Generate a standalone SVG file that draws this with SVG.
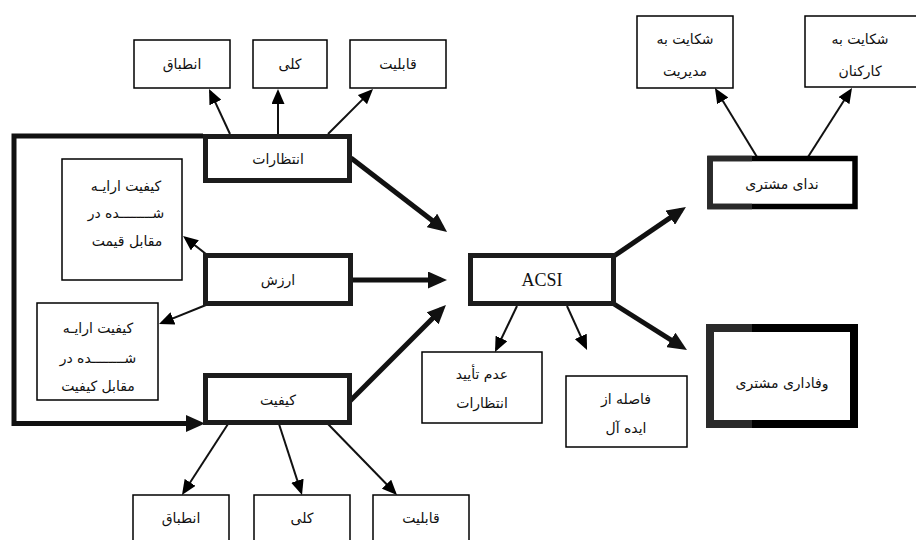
<svg xmlns="http://www.w3.org/2000/svg" width="916" height="540" viewBox="0 0 916 540">
<style>
  .box{fill:#fff;stroke:#000;stroke-width:1.5}
  .tbox{fill:#fff;stroke:#1c1c1c;stroke-width:5}
  .fa{font-family:"DejaVu Sans","Noto Sans",sans-serif;font-size:14px;fill:#111;text-anchor:middle;direction:rtl}
  .en{font-family:"Liberation Serif",serif;font-size:18px;fill:#111;text-anchor:middle}
  .thin{stroke:#111;stroke-width:2;fill:none;marker-end:url(#ah)}
  .thick{stroke:#111;stroke-width:5;fill:none;marker-end:url(#ahb)}
</style>
<defs>
  <marker id="ah" markerUnits="userSpaceOnUse" markerWidth="15" markerHeight="13" refX="12" refY="6.5" orient="auto">
    <path d="M0,0 L15,6.5 L0,13 Z" fill="#000"/>
  </marker>
  <marker id="ahb" markerUnits="userSpaceOnUse" markerWidth="19" markerHeight="17" refX="13" refY="8.5" orient="auto">
    <path d="M0,0 L19,8.5 L0,17 Z" fill="#111"/>
  </marker>
</defs>
<rect width="916" height="540" fill="#fff"/>

<g id="connectors">
  <line class="thin" x1="230" y1="134" x2="210.3" y2="91.7"/>
  <line class="thin" x1="278" y1="134" x2="278" y2="92"/>
  <line class="thin" x1="328" y1="134" x2="370.9" y2="91.1"/>
  <line class="thin" x1="206" y1="254" x2="185.4" y2="237.9"/>
  <line class="thin" x1="206" y1="305" x2="161.8" y2="322.9"/>
  <line class="thin" x1="228" y1="424" x2="183.6" y2="492.5"/>
  <line class="thin" x1="279" y1="424" x2="301.1" y2="492.1"/>
  <line class="thin" x1="328" y1="424" x2="394.9" y2="492.8"/>
  <line class="thin" x1="517" y1="306" x2="496.3" y2="349.3"/>
  <line class="thin" x1="567" y1="306" x2="585.8" y2="347.3"/>
  <line class="thin" x1="757" y1="157" x2="716.5" y2="90.6"/>
  <line class="thin" x1="808" y1="157" x2="850.4" y2="90.5"/>
  <line class="thick" x1="351" y1="158" x2="442.3" y2="228.3"/>
  <line class="thick" x1="352" y1="280" x2="441" y2="280"/>
  <line class="thick" x1="350" y1="401" x2="441.7" y2="309.2"/>
  <line class="thick" x1="614" y1="256" x2="681" y2="210.4"/>
  <line class="thick" x1="614" y1="304" x2="681.9" y2="346.8"/>
  <polyline class="thick" stroke-width="4.5" points="203,136 14,136 14,423.5 199,423.5"/>
</g>

<g id="top-entebagh"><rect class="box" x="134" y="40" width="96" height="48"/><text class="fa" x="182" y="69">انطباق</text></g>
<g id="top-kolli"><rect class="box" x="253" y="40" width="74" height="48"/><text class="fa" x="290" y="69">کلی</text></g>
<g id="top-ghabeliat"><rect class="box" x="350" y="40" width="96" height="48"/><text class="fa" x="398" y="69">قابلیت</text></g>

<g id="entezarat"><rect class="tbox" x="205.5" y="136.5" width="144" height="44"/><text class="fa" x="278" y="164">انتظارات</text></g>
<g id="arzesh"><rect class="tbox" x="205.5" y="255.5" width="145" height="48"/><text class="fa" x="278" y="285">ارزش</text></g>
<g id="keyfiat"><rect class="tbox" x="205.5" y="375.5" width="144" height="47"/><text class="fa" x="278" y="405">کیفیت</text></g>

<g id="quality-price"><rect class="box" x="62" y="159" width="120" height="121"/>
  <text class="fa" x="126" y="191">کیفیت ارایـه</text>
  <text class="fa" x="126" y="218">شــــــــده در</text>
  <text class="fa" x="127" y="246">مقابل قیمت</text>
</g>
<g id="quality-quality"><rect class="box" x="37" y="303" width="121" height="97"/>
  <text class="fa" x="98" y="333">کیفیت ارایـه</text>
  <text class="fa" x="98" y="363">شــــــــده در</text>
  <text class="fa" x="98" y="391">مقابل کیفیت</text>
</g>

<g id="acsi"><rect class="tbox" x="470.5" y="255.5" width="143" height="48"/><text class="en" x="542" y="286">ACSI</text></g>

<g id="adam-taeid"><rect class="box" x="422" y="352" width="120" height="71"/>
  <text class="fa" x="482" y="379">عدم تأیید</text>
  <text class="fa" x="482" y="408">انتظارات</text>
</g>
<g id="fasele"><rect class="box" x="566" y="376" width="121" height="71"/>
  <text class="fa" x="626" y="404">فاصله از</text>
  <text class="fa" x="626" y="433">ایده آل</text>
</g>

<g id="vafadari"><rect x="710" y="328" width="144" height="96" fill="#fff" stroke="#000" stroke-width="8"/>
  <path d="M752,328 H710 V424 H752" fill="none" stroke="#2a2a2a" stroke-width="8"/>
  <text class="fa" x="782" y="388">وفاداری مشتری</text>
</g>

<g id="neda"><rect x="710" y="158.5" width="145" height="48" fill="#fff" stroke="#000" stroke-width="5.5"/>
  <path d="M752,158.5 H710 V206.5 H752" fill="none" stroke="#2a2a2a" stroke-width="5.5"/>
  <text class="fa" x="782" y="189">ندای مشتری</text>
</g>

<g id="shekayat-modiriat"><rect class="box" x="637" y="16" width="96" height="72"/>
  <text class="fa" x="685" y="44">شکایت به</text>
  <text class="fa" x="685" y="76">مدیریت</text>
</g>
<g id="shekayat-karkonan"><rect class="box" x="805" y="16" width="114" height="71"/>
  <text class="fa" x="860" y="44">شکایت به</text>
  <text class="fa" x="860" y="76">کارکنان</text>
</g>

<g id="bot-entebagh"><rect class="box" x="133" y="495" width="96" height="50"/><text class="fa" x="181" y="523">انطباق</text></g>
<g id="bot-kolli"><rect class="box" x="254" y="495" width="96" height="50"/><text class="fa" x="302" y="523">کلی</text></g>
<g id="bot-ghabeliat"><rect class="box" x="373" y="495" width="96" height="50"/><text class="fa" x="421" y="523">قابلیت</text></g>
</svg>
